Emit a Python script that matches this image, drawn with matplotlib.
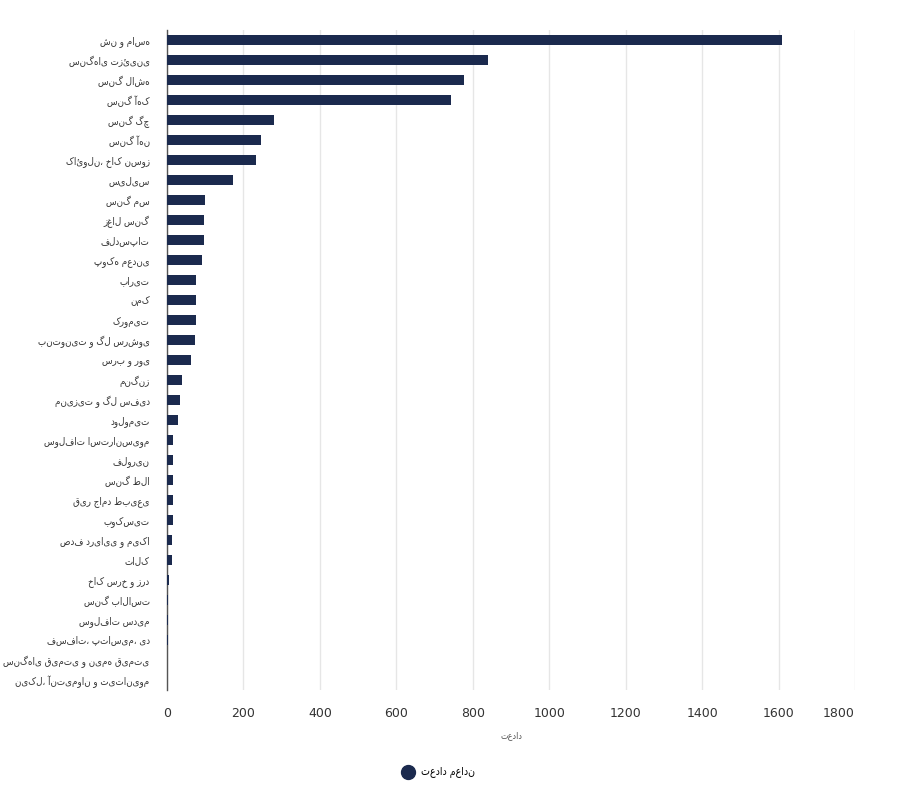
import matplotlib
matplotlib.use("Agg")
import matplotlib.pyplot as plt
from matplotlib.lines import Line2D
from matplotlib import font_manager

categories = [
    "شن و ماسه", "سنگ‌های تزئینی", "سنگ لاشه", "سنگ آهک", "سنگ گچ", "سنگ آهن",
    "کائولن، خاک نسوز", "سیلیس", "سنگ مس", "زغال سنگ", "فلدسپات", "پوکه معدنی",
    "باریت", "نمک", "کرومیت", "بنتونیت و گل سرشوی", "سرب و روی", "منگنز",
    "منیزیت و گل سفید", "دولومیت", "سولفات استرانسیوم", "فلورین", "سنگ طلا",
    "قیر جامد طبیعی", "بوکسیت", "صدف دریایی و میکا", "تالک", "خاک سرخ و زرد",
    "سنگ بالاست", "سولفات سدیم", "فسفات، پتاسیم، ید",
    "سنگ‌های قیمتی و نیمه قیمتی", "نیکل، آنتیموان و تیتانیوم",
]
values = [1610, 840, 776, 742, 280, 246, 232, 173, 99, 97, 97, 91,
          77, 77, 77, 74, 62, 38, 33, 30, 17, 17, 15, 15, 15, 12, 12,
          6, 3, 3, 3, 1, 1]
xticks = [0, 200, 400, 600, 800, 1000, 1200, 1400, 1600, 1800]
series_name = "تعداد معادن"
axis_title = "تعداد"

BAR = "#1b2a4e"
plt.rcParams["font.family"] = ["DejaVu Sans"]

# Prefer the condensed DejaVu face for the Persian labels if it is installed
cond = None
for f in font_manager.fontManager.ttflist:
    if "DejaVuSansCondensed.ttf" in f.fname:
        cond = f.fname
        break
if cond:
    label_font = font_manager.FontProperties(fname=cond, size=7.0)
    legend_font = font_manager.FontProperties(fname=cond, size=7.6)
    title_font = font_manager.FontProperties(fname=cond, size=6.5)
else:
    label_font = font_manager.FontProperties(family="DejaVu Sans", size=6.4)
    legend_font = font_manager.FontProperties(family="DejaVu Sans", size=7)
    title_font = font_manager.FontProperties(family="DejaVu Sans", size=6)

fig = plt.figure(figsize=(8.97, 7.92), dpi=100)
ax = fig.add_axes([167/897, 1-690/792, 688/897, 660/792])

ypos = list(range(len(categories)))
ax.barh(ypos, values, height=0.48, color=BAR, zorder=3)
ax.set_ylim(len(categories)-0.5, -0.5)
ax.set_xlim(0, 1800)
ax.set_yticks(ypos)
ax.set_yticklabels(categories, color="#333333")
for t in ax.get_yticklabels():
    t.set_fontproperties(label_font)
ax.set_xticks(xticks)
ax.set_xticklabels([str(t) for t in xticks], fontsize=9, color="#333333")
ax.get_xticklabels()[-1].set_horizontalalignment("right")
ax.tick_params(axis="both", length=0)
ax.tick_params(axis="x", pad=12)
ax.tick_params(axis="y", pad=12.5)
ax.grid(axis="x", color="#e6e6e6", linewidth=1, zorder=0)
for s in ["top", "right", "bottom"]:
    ax.spines[s].set_visible(False)
ax.spines["left"].set_color("#555555")
ax.spines["left"].set_linewidth(1)
ax.set_xlabel(axis_title, fontproperties=title_font, color="#555555", labelpad=8)

handle = Line2D([], [], marker="o", linestyle="none", markersize=10,
                markerfacecolor=BAR, markeredgecolor=BAR)
fig.legend([handle], [series_name], loc="center", bbox_to_anchor=(436/897, 1-773/792),
           frameon=False, prop=legend_font, handletextpad=0.2, markerfirst=True)

fig.savefig("out.png", dpi=100)
